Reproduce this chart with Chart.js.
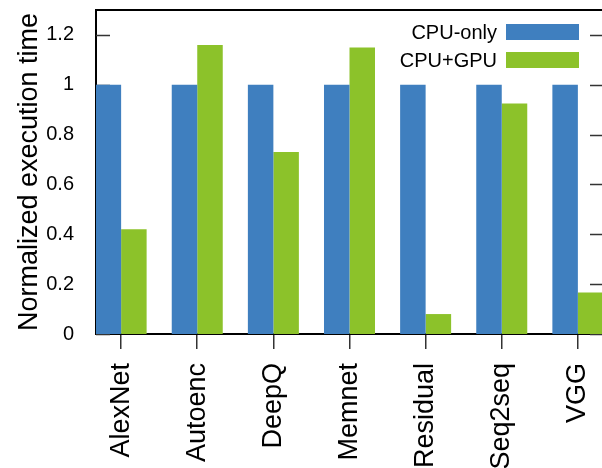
<!DOCTYPE html>
<html>
<head>
<meta charset="utf-8">
<script src="https://cdn.jsdelivr.net/npm/chart.js@4"></script>
<style>
  html, body { margin: 0; padding: 0; background: #fff; overflow: hidden; }
  #wrap { position: absolute; left: 0; top: 0; width: 603px; height: 468px; }
</style>
</head>
<body>
<div id="wrap"><canvas id="chart"></canvas></div>
<script>
const categories = ['AlexNet', 'Autoenc', 'DeepQ', 'Memnet', 'Residual', 'Seq2seq', 'VGG'];
const cpuOnly    = [1, 1, 1, 1, 1, 1, 1];
const cpuGpu     = [0.42, 1.16, 0.73, 1.15, 0.08, 0.925, 0.167];
const seriesNames = ['CPU-only', 'CPU+GPU'];
const yTicks     = [0, 0.2, 0.4, 0.6, 0.8, 1, 1.2];

const FONT = 'Liberation Sans, Arial, sans-serif';
const BLUE  = '#3f7fbf';
const GREEN = '#8cc22a';

// frame, inward tick marks and the in-plot legend
const framePlugin = {
  id: 'frame',
  beforeDatasetsDraw(chart) {
    const { ctx, chartArea: a, scales: { y } } = chart;
    ctx.save();
    ctx.strokeStyle = '#333';
    ctx.lineWidth = 1.5;
    yTicks.forEach(v => {
      const py = Math.round(y.getPixelForValue(v)) + 0.5;
      ctx.beginPath();
      ctx.moveTo(a.left, py);  ctx.lineTo(a.left + 14, py);
      ctx.moveTo(a.right - 13, py); ctx.lineTo(a.right, py);
      ctx.stroke();
    });
    ctx.restore();
  },
  afterDraw(chart) {
    const { ctx, chartArea: a } = chart;
    ctx.save();
    ctx.strokeStyle = '#000';
    ctx.lineWidth = 2;
    ctx.beginPath();
    ctx.moveTo(a.left, a.top); ctx.lineTo(a.right, a.top);
    ctx.lineTo(a.right, a.bottom);
    ctx.stroke();

    ctx.font = '20px ' + FONT;
    ctx.fillStyle = '#000';
    ctx.textAlign = 'right';
    ctx.textBaseline = 'middle';
    chart.data.datasets.forEach((ds, i) => {
      const boxR = a.right - 24, boxW = 73, boxH = 16;
      const top = a.top + 14 + i * 28;
      ctx.fillStyle = ds.backgroundColor;
      ctx.fillRect(boxR - boxW, top, boxW, boxH);
      ctx.fillStyle = '#000';
      ctx.fillText(ds.label, boxR - boxW - 9, top + boxH / 2 + 1);
    });
    ctx.restore();
  },
};

new Chart(document.getElementById('chart'), {
  type: 'bar',
  data: {
    datasets: [
      { label: seriesNames[0], data: cpuOnly.map((v, i) => ({ x: i, y: v })), backgroundColor: BLUE },
      { label: seriesNames[1], data: cpuGpu.map((v, i) => ({ x: i, y: v })),  backgroundColor: GREEN },
    ],
  },
  options: {
    responsive: true, maintainAspectRatio: false,
    animation: false,
    categoryPercentage: 0.67,
    barPercentage: 1.0,
    layout: { padding: { top: 10, left: 0, right: 0, bottom: 0 } },
    plugins: { legend: { display: false }, tooltip: { enabled: false } },
    scales: {
      x: {
        type: 'linear',
        offset: false,
        min: -0.33, max: 6.33,
        grid: { offset: false, drawOnChartArea: false, drawTicks: true, tickLength: 15, color: '#333', lineWidth: 1.5 },
        border: { display: true, color: '#000', width: 2 },
        ticks: {
          stepSize: 1, includeBounds: false, autoSkip: false,
          maxRotation: 90, minRotation: 90, padding: 14,
          color: '#000', font: { family: FONT, size: 27 },
          callback: v => categories[v] ?? '',
        },
        afterFit: s => {
          s.height = 134;
          s.paddingLeft = 0; s.paddingRight = 0;
        },
      },
      y: {
        min: 0, max: 1.3,
        grid: { display: false },
        border: { display: true, color: '#000', width: 2 },
        ticks: {
          stepSize: 0.2, includeBounds: false, padding: 14,
          color: '#000', font: { family: FONT, size: 20 },
          callback: v => String(+v.toFixed(1)),
        },
        title: {
          display: true, text: 'Normalized execution time',
          color: '#000', font: { family: FONT, size: 27 },
          padding: { top: 13, bottom: 0 },
        },
        afterFit: s => {
          s.width = 96;
          s.paddingTop = 0; s.paddingBottom = 0;
        },
      },
    },
  },
  plugins: [framePlugin],
});
</script>
</body>
</html>
